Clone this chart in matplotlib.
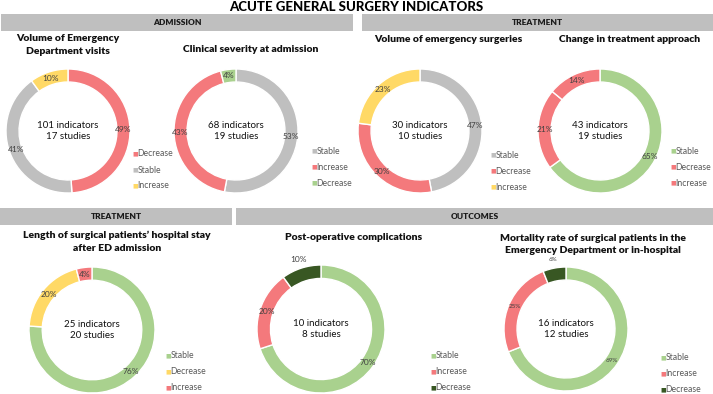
import numpy as np
import matplotlib.pyplot as plt
from matplotlib.patches import Rectangle

RED = '#F4797C'
GRAY = '#BFBFBF'
YELLOW = '#FFD966'
LGREEN = '#A9D18E'
DGREEN = '#385723'

# chart data (percent shares, clockwise from 12 o'clock)
ed_labels = ['Decrease', 'Stable', 'Increase']
ed_values = [49, 41, 10]
ed_colors = [RED, GRAY, YELLOW]

sev_labels = ['Stable', 'Increase', 'Decrease']
sev_values = [53, 43, 4]
sev_colors = [GRAY, RED, LGREEN]

surg_labels = ['Stable', 'Decrease', 'Increase']
surg_values = [47, 30, 23]
surg_colors = [GRAY, RED, YELLOW]

appr_labels = ['Stable', 'Decrease', 'Increase']
appr_values = [65, 21, 14]
appr_colors = [LGREEN, RED, RED]

stay_labels = ['Stable', 'Decrease', 'Increase']
stay_values = [76, 20, 4]
stay_colors = [LGREEN, YELLOW, RED]

comp_labels = ['Stable', 'Increase', 'Decrease']
comp_values = [70, 20, 10]
comp_colors = [LGREEN, RED, DGREEN]

mort_labels = ['Stable', 'Increase', 'Decrease']
mort_values = [69, 25, 6]
mort_colors = [LGREEN, RED, DGREEN]

W, H = 713, 394
fig = plt.figure(figsize=(W / 100, H / 100), dpi=100)
plt.rcParams['font.family'] = ['Lato', 'DejaVu Sans']


def header(x0, x1, y0, y1, text):
    fig.add_artist(Rectangle((x0 / W, 1 - y1 / H), (x1 - x0) / W, (y1 - y0) / H,
                             transform=fig.transFigure, facecolor='#BFBFBF',
                             edgecolor='none'))
    fig.text((x0 + x1) / 2 / W, 1 - (y0 + y1) / 2 / H, text, ha='center',
             va='center', fontsize=6, fontweight='heavy', color='#1a1a1a')


def donut(cx, cy, r, values, colors, labels, center_text, title, title_x,
          title_y, leg_x, leg_y, pct_size=6.0, outside=None):
    ax = fig.add_axes([(cx - r) / W, 1 - (cy + r) / H, 2 * r / W, 2 * r / H])
    wedges, texts, pcts = ax.pie(
        values, colors=colors, startangle=90, counterclock=False, radius=1,
        wedgeprops=dict(width=0.21, edgecolor='white', linewidth=1),
        autopct=lambda p: '%d%%' % round(p), pctdistance=0.895,
        textprops=dict(fontsize=pct_size, color='#404040'))
    ax.set_xlim(-1, 1)
    ax.set_ylim(-1, 1)
    ax.set_aspect('equal')
    for t in pcts:
        t.set_clip_on(False)
    if outside is not None:
        w = wedges[outside]
        ang = np.deg2rad((w.theta1 + w.theta2) / 2)
        pcts[outside].set_position((1.14 * np.cos(ang), 1.14 * np.sin(ang)))
    ax.text(0, 0, center_text, ha='center', va='center', fontsize=7,
            linespacing=1.35, color='#111111')
    fig.text(title_x / W, 1 - title_y / H, title, ha='center', va='center',
             fontsize=7.5, fontweight='heavy', linespacing=1.5, color='#111111')
    for i, (lab, col) in enumerate(zip(labels, colors)):
        y = leg_y + i * 16
        fig.text(leg_x / W, 1 - y / H, '\u25a0', ha='left', va='center',
                 fontsize=4.3, color=col)
        fig.text((leg_x + 5.5) / W, 1 - y / H, lab, ha='left', va='center',
                 fontsize=6.2, color='#595959')


fig.text(0.5, 1 - 7 / H, 'ACUTE GENERAL SURGERY INDICATORS', ha='center',
         va='center', fontsize=9.5, fontweight='black')

header(1, 353, 14, 31, 'ADMISSION')
header(362, 713, 14, 31, 'TREATMENT')
header(0, 232, 208, 225, 'TREATMENT')
header(236, 713, 208, 225, 'OUTCOMES')

donut(68, 131, 62, ed_values, ed_colors, ed_labels,
      '101 indicators\n17 studies', 'Volume of Emergency\nDepartment visits',
      68, 45, 132, 154)
donut(236, 131, 62, sev_values, sev_colors, sev_labels,
      '68 indicators\n19 studies', 'Clinical severity at admission',
      251, 50, 311, 151)
donut(420, 131, 62, surg_values, surg_colors, surg_labels,
      '30 indicators\n10 studies', 'Volume of emergency surgeries',
      448, 40, 490, 155)
donut(600, 131, 62, appr_values, appr_colors, appr_labels,
      '43 indicators\n19 studies', 'Change in treatment approach',
      630, 39, 670, 151)
donut(92, 330, 63, stay_values, stay_colors, stay_labels,
      '25 indicators\n20 studies',
      'Length of surgical patients\u2019 hospital stay\nafter ED admission',
      117, 242, 165, 356)
donut(321, 329, 64, comp_values, comp_colors, comp_labels,
      '10 indicators\n8 studies', 'Post-operative complications',
      354, 238, 430, 356, outside=2)
donut(566, 329, 62, mort_values, mort_colors, mort_labels,
      '16 indicators\n12 studies',
      'Mortality rate of surgical patients in the\nEmergency Department or in-hospital',
      593, 244.5, 660, 358, pct_size=4.5, outside=2)

fig.savefig('out.png', dpi=100)
